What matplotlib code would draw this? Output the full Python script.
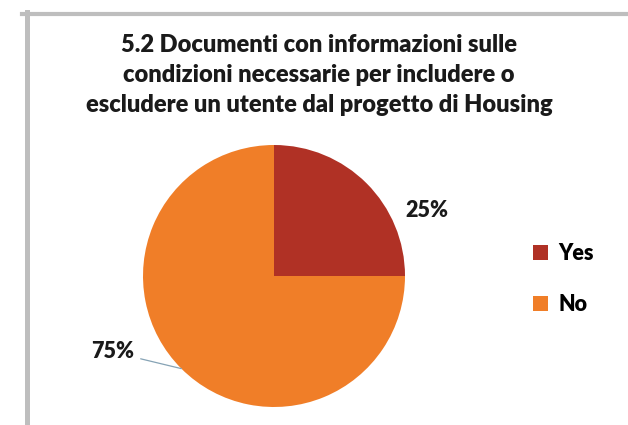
import numpy as np
import matplotlib
matplotlib.use("Agg")
import matplotlib.pyplot as plt
from matplotlib.lines import Line2D
from matplotlib.patches import Patch

# Dati del grafico
categorie = ["Yes", "No"]
percentuali = [25, 75]
colori = ["#b03125", "#f07e28"]
titolo = ("5.2 Documenti con informazioni sulle\n"
          "condizioni necessarie per includere o\n"
          "escludere un utente dal progetto di Housing")

plt.rcParams["font.family"] = ["Lato", "DejaVu Sans"]
peso = "heavy"

W, H = 628, 425
fig = plt.figure(figsize=(W / 100, H / 100), dpi=100)
fig.patch.set_facecolor("white")

# cornice grigia (lato superiore e sinistro)
grigio = "#bebebe"
fig.add_artist(Line2D([22 / W, 1.0], [1 - 14 / H, 1 - 14 / H], color=grigio, lw=3.0))
fig.add_artist(Line2D([27 / W, 27 / W], [0.0, 1 - 12 / H], color=grigio, lw=3.6))

fig.text(319 / W, 1 - 75 / H, titolo, ha="center", va="center", fontsize=17,
         fontweight=peso, color="#1a1a1a", linespacing=1.45)

# asse della torta: centro (274, 276) px, raggio 131 px
cx, cy, r = 274, 276, 131
half = r * 1.6
ax = fig.add_axes([(cx - half) / W, (H - cy - half) / H, 2 * half / W, 2 * half / H])
wedges, _ = ax.pie(percentuali, colors=colori, startangle=90, counterclock=False,
                   wedgeprops=dict(linewidth=0))
ax.set_xlim(-1.6, 1.6)
ax.set_ylim(-1.6, 1.6)
ax.set_aspect("equal")
ax.axis("off")

# etichette percentuali
w_yes, w_no = wedges
ax.text(1.0, 0.50, f"{percentuali[0]}%", ha="left", va="center", fontsize=15.5,
        fontweight=peso, color="#1a1a1a")
ang = np.deg2rad((w_no.theta1 + w_no.theta2) / 2)
ax.annotate(f"{percentuali[1]}%", xy=(np.cos(ang), np.sin(ang)),
            xytext=(-1.07, -0.58), ha="right", va="center", fontsize=15.5,
            fontweight=peso, color="#1a1a1a",
            arrowprops=dict(arrowstyle="-", color="#86a3b5", lw=0.9,
                            shrinkA=3, shrinkB=0))

handles = [Patch(facecolor=c, edgecolor="none") for c in colori]
fig.legend(handles, categorie, loc="center left",
           bbox_to_anchor=(514 / W, 1 - 279 / H), frameon=False,
           handlelength=0.7, handleheight=0.7,
           handletextpad=0.45, labelspacing=1.4,
           prop=dict(family=["Lato", "DejaVu Sans"], weight=peso, size=15.5))

fig.savefig("out.png", dpi=100, facecolor="white")
